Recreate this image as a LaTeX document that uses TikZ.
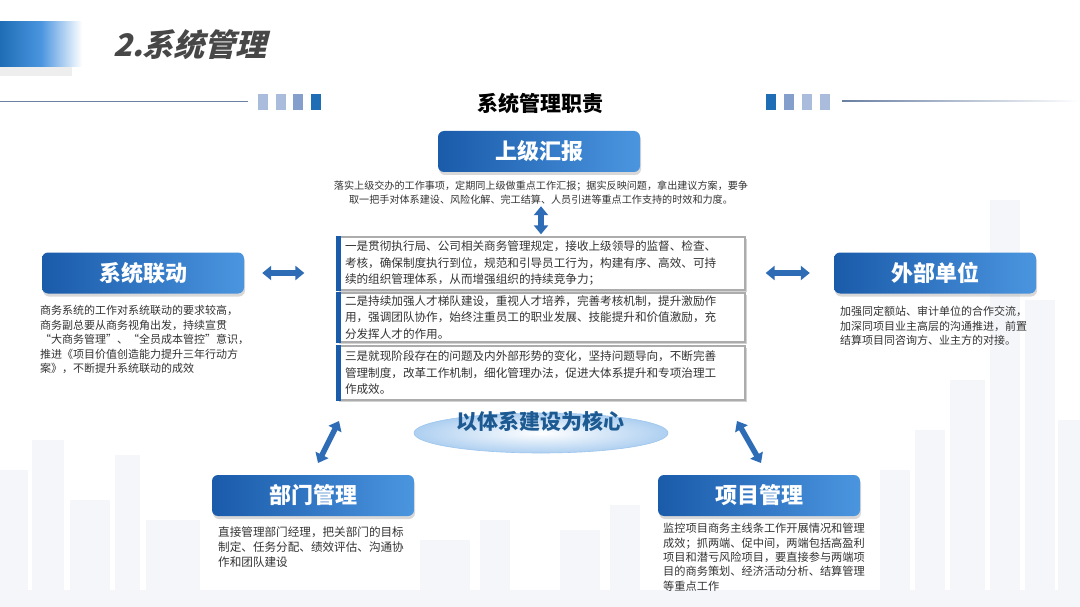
\documentclass[tikz,border=0pt]{standalone}
\usepackage{fontspec}
\newfontfamily\cjk{Noto Sans CJK SC}
\newfontfamily\cjkt[FakeSlant=0.25]{Noto Sans CJK SC}
\usetikzlibrary{arrows.meta,shadows,shapes.geometric}
\definecolor{bdark}{HTML}{1A5BAA}
\definecolor{blight}{HTML}{4B95DF}
\definecolor{txt}{HTML}{333333}
\definecolor{arrowc}{HTML}{2E6DB6}
\definecolor{bgb}{HTML}{F4F6F9}
\definecolor{sq1}{HTML}{AABCDC}
\definecolor{sq2}{HTML}{849FCB}
\definecolor{sq3}{HTML}{1E6DB5}
\definecolor{coretxt}{HTML}{1D5A92}
\tikzset{
  head/.style={rounded corners=6pt, left color=bdark, right color=blight,
    minimum width=202pt, minimum height=41pt, text=white,
    font=\cjk\bfseries\fontsize{22}{24}\selectfont,
    drop shadow={opacity=0.3,shadow xshift=1pt,shadow yshift=-3pt}},
  body/.style={font=\cjk\fontsize{11}{14.6}\selectfont, text=txt, align=left, inner sep=0pt},
  cbox/.style={draw=gray!65, line width=1.3pt, fill=white, text width=392pt,
    inner xsep=8pt, inner ysep=0pt, align=left, text=txt,
    font=\cjk\fontsize{11.6}{16.5}\selectfont,
    drop shadow={opacity=0.35,shadow xshift=2pt,shadow yshift=-2pt}},
  dbl/.style={line width=5.5pt, arrowc,
    {Triangle[length=9pt,width=14pt]}-{Triangle[length=9pt,width=14pt]}},
  sq/.style={minimum width=10pt, minimum height=16pt, inner sep=0pt}
}
\begin{document}
\begin{tikzpicture}[x=1pt,y=-1pt]
\useasboundingbox (0,0) rectangle (1080,607);
\fill[white] (0,0) rectangle (1080,607);
% faint skyline background
\begin{scope}[bgb]
\fill (0,470) rectangle (28,607);
\fill (32,440) rectangle (64,607);
\fill (70,500) rectangle (110,607);
\fill (115,455) rectangle (140,607);
\fill (146,520) rectangle (200,607);
\fill (420,540) rectangle (470,607);
\fill (480,520) rectangle (510,607);
\fill (560,530) rectangle (600,607);
\fill (610,505) rectangle (640,607);
\fill (880,470) rectangle (910,607);
\fill (915,430) rectangle (945,607);
\fill (950,380) rectangle (985,607);
\fill (990,200) rectangle (1020,607);
\fill (1025,300) rectangle (1055,607);
\fill (1058,420) rectangle (1080,607);
\fill (0,590) rectangle (1080,607);
\end{scope}
% top-left bar
\fill[gray!25, opacity=0.5] (0,62) rectangle (72,76);
\shade[left color=sq3, right color=white, middle color=blight] (0,22) rectangle (82,67);
\node[font=\cjkt\bfseries\fontsize{31}{33}\selectfont, text=txt!90] (title) at (190,45) {2.系统管理};
% header rule and squares
\draw[line width=0.9pt, sq2!80!black] (0,101) -- (248,101);
\shade[left color=sq2!80!black, right color=white] (842,100.5) rectangle (1080,101.5);
\node[sq, fill=sq1] (s1) at (263,102) {};
\node[sq, fill=sq1] (s2) at (281,102) {};
\node[sq, fill=sq2] (s3) at (298,102) {};
\node[sq, fill=sq3] (s4) at (316,102) {};
\node[sq, fill=sq3] (s5) at (771,102) {};
\node[sq, fill=sq2] (s6) at (789,102) {};
\node[sq, fill=sq1] (s7) at (807,102) {};
\node[sq, fill=sq1] (s8) at (825,102) {};
\node[font=\cjk\bfseries\fontsize{21}{22}\selectfont, text=black] (sub) at (540,103) {系统管理职责};
% top
\node[head] (sj) at (539,151.5) {上级汇报};
\node[body, align=center, font=\cjk\fontsize{10.1}{13.5}\selectfont] (sjt) at (541,192.5)
  {落实上级交办的工作事项，定期同上级做重点工作汇报；据实反映问题，拿出建议方案，要争\\
   取一把手对体系建设、风险化解、完工结算、人员引进等重点工作支持的时效和力度。};
% center boxes
\node[cbox, minimum height=53pt] (c1) at (541,263.5)
  {一是贯彻执行局、公司相关商务管理规定，接收上级领导的监督、检查、\\
   考核，确保制度执行到位，规范和引导员工行为，构建有序、高效、可持\\
   续的组织管理体系，从而增强组织的持续竞争力；};
\node[cbox, minimum height=49pt] (c2) at (541,317.5)
  {二是持续加强人才梯队建设，重视人才培养，完善考核机制，提升激励作\\
   用，强调团队协作，始终注重员工的职业发展、技能提升和价值激励，充\\
   分发挥人才的作用。};
\node[cbox, minimum height=54pt] (c3) at (541,373)
  {三是就现阶段存在的问题及内外部形势的变化，坚持问题导向，不断完善\\
   管理制度，改革工作机制，细化管理办法，促进大体系提升和专项治理工\\
   作成效。};
\foreach \b in {c1,c2,c3}{
  \fill[bdark] (\b.north west) rectangle ([xshift=5pt]\b.south west);
}
% core ellipse
\node[ellipse, minimum width=254pt, minimum height=40pt, inner color=white, outer color=blight!45,
  draw=blight!55, line width=0.6pt] (core) at (541,433) {};
\node[font=\cjk\bfseries\fontsize{21}{22}\selectfont, text=coretxt] (coretext) at (540,421) {以体系建设为核心};
% left
\node[head] (sl) at (143,273) {系统联动};
\node[body, anchor=north west] (slt) at (40,305)
  {商务系统的工作对系统联动的要求较高，\\
   商务副总要从商务视角出发，持续宣贯\\
   “大商务管理”、“全员成本管控”意识，\\
   推进《项目价值创造能力提升三年行动方\\
   案》，不断提升系统联动的成效};
% right
\node[head] (wb) at (935,273) {外部单位};
\node[body, anchor=north west] (wbt) at (840,306)
  {加强同定额站、审计单位的合作交流，\\
   加深同项目业主高层的沟通推进，前置\\
   结算项目同咨询方、业主方的对接。};
% bottom left
\node[head] (bm) at (313,495.5) {部门管理};
\node[body, anchor=north west, font=\cjk\fontsize{11.6}{14.6}\selectfont] (bmt) at (218,527)
  {直接管理部门经理，把关部门的目标\\
   制定、任务分配、绩效评估、沟通协\\
   作和团队建设};
% bottom right
\node[head] (xm) at (759,495.5) {项目管理};
\node[body, anchor=north west, font=\cjk\fontsize{11.2}{14.4}\selectfont] (xmt) at (663,523)
  {监控项目商务主线条工作开展情况和管理\\
   成效；抓两端、促中间，两端包括高盈利\\
   项目和潜亏风险项目，要直接参与两端项\\
   目的商务策划、经济活动分析、结算管理\\
   等重点工作};
% arrows
\draw[dbl, shorten <=2pt, shorten >=2pt] (sjt.south) -- (sjt.south |- c1.north);
\draw[dbl, shorten <=18pt, shorten >=32pt] (sl.east) -- (sl.east -| c1.west);
\draw[dbl, shorten <=24pt, shorten >=20pt] (wb.west) -- (wb.west -| c1.east);
\coordinate (la) at (339,421);
\coordinate (lb) at (318,463);
\coordinate (ra) at (737,421);
\coordinate (rb) at (761,463);
\draw[dbl] (la) -- (lb);
\draw[dbl] (ra) -- (rb);
\end{tikzpicture}
\end{document}
